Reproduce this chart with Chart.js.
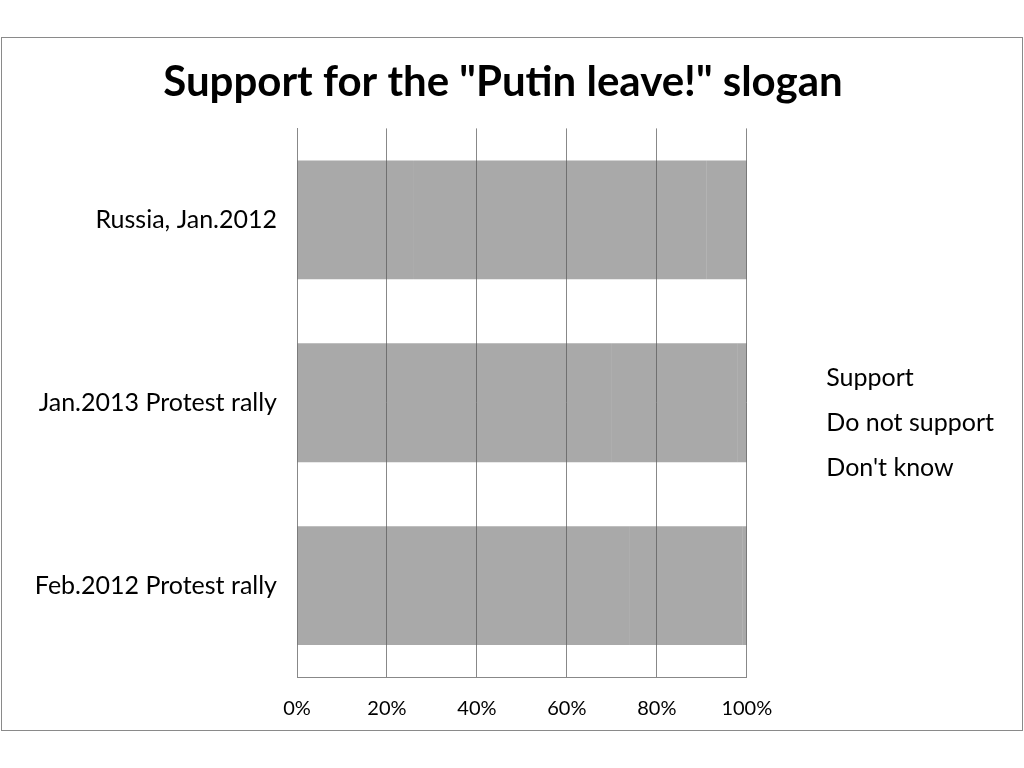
<!DOCTYPE html>
<html>
<head>
<meta charset="utf-8">
<script src="https://cdn.jsdelivr.net/npm/chart.js@4/dist/chart.umd.min.js"></script>
<style>
  html, body { margin: 0; padding: 0; background: #fff; }
  #frame {
    position: absolute; left: 1px; top: 37px;
    width: 1020px; height: 692px;
    border: 1px solid #8a8a8a;
  }
  #chart { display: block; }
</style>
</head>
<body>
<div id="frame"><canvas id="chart" width="1020" height="692"></canvas></div>
<script>
// categories, top to bottom
const categories = ['Russia, Jan.2012', 'Jan.2013 Protest rally', 'Feb.2012 Protest rally'];
const seriesNames = ['Support', 'Do not support', "Don't know"];

// percent of respondents, per category
const support = [26, 70, 74];
const doNotSupport = [65, 28, 25];
const dontKnow = [9, 2, 1];

const xTicks = [0, 20, 40, 60, 80, 100];

const FONT = 'Lato, "Open Sans", sans-serif';
const barFill = 'rgba(90, 90, 90, 0.52)';

const values = [support, doNotSupport, dontKnow];

const data = {
  labels: categories,
  datasets: seriesNames.map((name, i) => ({
    label: name,
    data: values[i],
    backgroundColor: barFill,
    borderWidth: 0,
    barPercentage: 0.65,
    categoryPercentage: 1,
  })),
};

new Chart(document.getElementById('chart'), {
  type: 'bar',
  data,
  options: {
    indexAxis: 'y',
    responsive: false,
    animation: false,
    layout: { padding: { left: 0, right: 18, top: 0, bottom: 0 } },
    scales: {
      x: {
        stacked: true,
        min: 0,
        max: 100,
        afterBuildTicks: (axis) => { axis.ticks = xTicks.map(v => ({ value: v })); },
        afterFit: (scale) => { scale.height = 53; },
        grid: { color: '#888', lineWidth: 1, drawTicks: false },
        border: { color: '#888' },
        ticks: {
          padding: 20,
          color: '#000',
          font: { family: FONT, size: 20 },
          callback: (v) => v + '%',
        },
      },
      y: {
        stacked: true,
        afterFit: (scale) => { scale.width = 295; },
        grid: { display: false },
        border: { display: true, color: '#888' },
        ticks: {
          padding: 12,
          color: '#000',
          font: { family: FONT, size: 25 },
        },
      },
    },
    plugins: {
      title: {
        display: true,
        text: 'Support for the "Putin leave!" slogan',
        color: '#000',
        font: { family: FONT, size: 42, weight: 'bold' },
        padding: { top: 19, bottom: 21 },
      },
      legend: {
        position: 'right',
        fullSize: false,
        maxWidth: 320,
        title: { display: true, text: '', font: { size: 10 }, padding: 14 },
        labels: {
          boxWidth: 47,
          padding: 20,
          color: '#000',
          font: { family: FONT, size: 25 },
          generateLabels: (chart) =>
            Chart.defaults.plugins.legend.labels.generateLabels(chart).map(l => ({
              ...l, fillStyle: 'rgba(0,0,0,0)', strokeStyle: 'rgba(0,0,0,0)', lineWidth: 0,
            })),
        },
      },
      tooltip: { enabled: false },
    },
  },
});
</script>
</body>
</html>
